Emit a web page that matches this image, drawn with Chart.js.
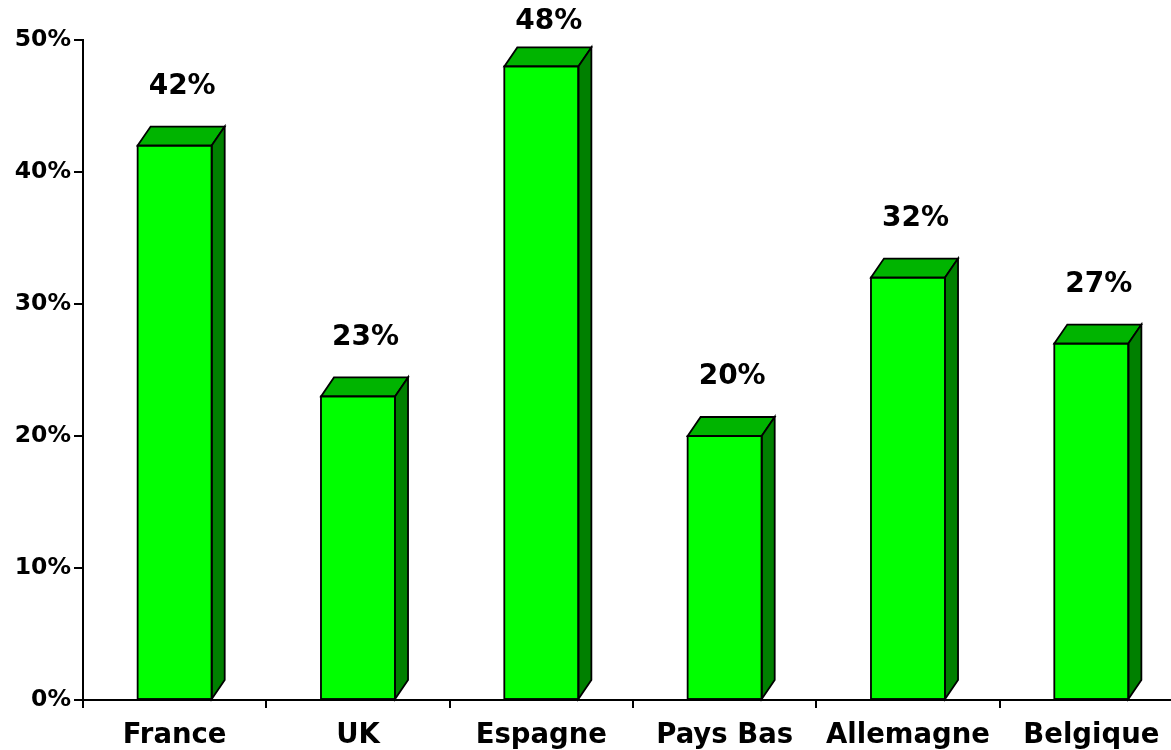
<!DOCTYPE html>
<html>
<head>
<meta charset="utf-8">
<script src="https://cdn.jsdelivr.net/npm/chart.js@4/dist/chart.umd.min.js"></script>
<style>
  html, body { margin: 0; padding: 0; background: #ffffff; overflow: hidden; }
  #wrap { position: relative; width: 1183px; height: 750px; }
</style>
</head>
<body>
<div id="wrap"><canvas id="c"></canvas></div>
<script>
const categories = ['France', 'UK', 'Espagne', 'Pays Bas', 'Allemagne', 'Belgique'];
const values = [42, 23, 48, 20, 32, 27];
const yTicks = [0, 10, 20, 30, 40, 50];

const FONT = '"DejaVu Sans", Verdana, sans-serif';
const DX = 13, DY = 19;

const bar3d = {
  id: 'bar3d',
  afterDatasetsDraw(chart) {
    const ctx = chart.ctx;
    const meta = chart.getDatasetMeta(0);
    ctx.save();
    ctx.lineWidth = 1.8;
    ctx.strokeStyle = '#000000';
    ctx.lineJoin = 'miter';
    meta.data.forEach((el, i) => {
      const p = el.getProps(['x', 'y', 'base', 'width'], true);
      const l = p.x - p.width / 2, r = p.x + p.width / 2, t = p.y, b = p.base;
      ctx.beginPath();
      ctx.moveTo(l, t); ctx.lineTo(l + DX, t - DY); ctx.lineTo(r + DX, t - DY); ctx.lineTo(r, t); ctx.closePath();
      ctx.fillStyle = '#00b400'; ctx.fill(); ctx.stroke();
      ctx.beginPath();
      ctx.moveTo(r, t); ctx.lineTo(r + DX, t - DY); ctx.lineTo(r + DX, b - DY); ctx.lineTo(r, b); ctx.closePath();
      ctx.fillStyle = '#008000'; ctx.fill(); ctx.stroke();
      ctx.strokeRect(l, t, r - l, b - t);
      ctx.fillStyle = '#000000';
      ctx.font = 'bold 28px ' + FONT;
      ctx.textAlign = 'center';
      ctx.textBaseline = 'middle';
      let ly = t - DY - 40;
      if (ly < 22) ly = 22;
      ctx.fillText(values[i] + '%', p.x + DX / 2 + 1, ly);
    });
    ctx.restore();
  }
};

new Chart(document.getElementById('c'), {
  type: 'bar',
  data: {
    labels: categories,
    datasets: [{
      data: values,
      backgroundColor: '#00ff00',
      borderWidth: 0,
      categoryPercentage: 1,
      barPercentage: 0.404
    }]
  },
  options: {
    responsive: true,
    maintainAspectRatio: false,
    animation: false,
    layout: { padding: { top: 40, right: 0, left: 0, bottom: 0 } },
    plugins: { legend: { display: false }, tooltip: { enabled: false } },
    scales: {
      x: {
        offset: true,
        grid: { offset: true, drawOnChartArea: false, drawTicks: true, tickLength: 8, color: '#000000', lineWidth: 2 },
        border: { display: true, color: '#000000', width: 2 },
        ticks: { color: '#000000', font: { family: FONT, size: 27.5, weight: 'bold' }, padding: 11, maxRotation: 0, autoSkip: false },
        afterFit(s) { s.height = 50; }
      },
      y: {
        min: 0, max: 50,
        afterBuildTicks(s) { s.ticks = yTicks.map(v => ({ value: v })); },
        grid: { drawOnChartArea: false, drawTicks: true, tickLength: 9, color: '#000000', lineWidth: 2 },
        border: { display: true, color: '#000000', width: 2 },
        ticks: { color: '#000000', font: { family: FONT, size: 23.5, weight: 'bold' }, padding: 3, callback: v => v + '%' },
        afterFit(s) { s.width = 83; }
      }
    }
  },
  plugins: [bar3d]
});
</script>
</body>
</html>
